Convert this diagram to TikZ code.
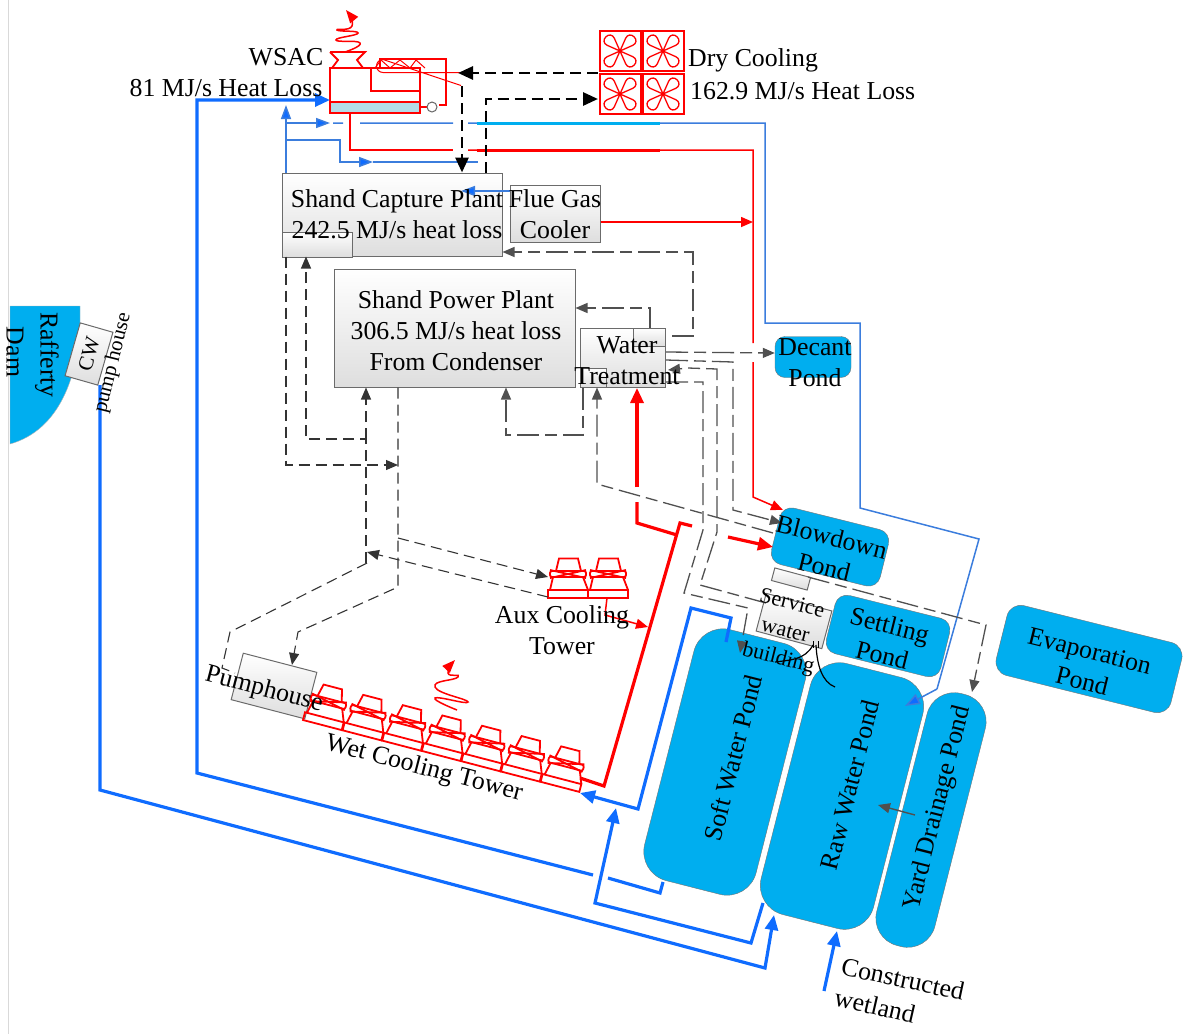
\documentclass[tikz,border=0pt]{standalone}
\usepackage{fontspec}
\setmainfont{Liberation Serif}
\usetikzlibrary{arrows.meta,calc}
\definecolor{pondblue}{HTML}{00AEEF}
\definecolor{pipeblue}{HTML}{0F6CFF}
\definecolor{thinblue}{HTML}{3B7DDD}
\definecolor{lakeblue}{HTML}{B4DCE8}
\definecolor{dashgrey}{HTML}{505050}
\colorlet{coolred}{red}
\tikzset{
  fan/.pic={
    \draw[coolred,line width=2pt] (-20.5,-20) rectangle (20.5,20);
    \foreach \a in {45,135,225,315}
      \draw[coolred,line width=1.3pt,rotate=\a] (0,0) -- (13,-5) .. controls (17,-6.5) and (20,-4) .. (20,0) .. controls (20,4) and (17,6.5) .. (13,5) -- cycle;
  },
  tower/.pic={
    \draw[coolred,line width=1.8pt] (0,-8) rectangle (40,0);
    \draw[coolred,line width=1.8pt] (2,-8) -- (5,-21) (35,-21) -- (40,-8);
    \draw[coolred,line width=1.8pt,rounded corners=2pt] (2,-27) rectangle (38,-21);
    \draw[coolred,line width=1.8pt] (2,-28) -- (38,-20) (2,-20) -- (38,-28);
    \draw[coolred,line width=1.8pt] (8,-27) -- (11,-39.5) -- (30,-39.5) -- (33,-27);
  }
}
\begin{document}
\begin{tikzpicture}[x=1pt,y=-1pt,
  font=\fontsize{25.8}{31}\selectfont,
  lbl/.style={inner sep=0pt,align=center},
  smalllbl/.style={inner sep=0pt,align=center,font=\fontsize{21}{27}\selectfont},
  pond/.style={draw=black!55,fill=pondblue,rounded corners=#1},
  pond/.default=12pt,
  plant/.style={draw=black!58,line width=1pt,top color=white,bottom color=black!13},
  mainpipe/.style={draw=pipeblue,line width=3.2pt},
  bluepipe/.style={draw=thinblue,line width=1.5pt},
  redpipe/.style={draw=red,line width=1.5pt},
  fatred/.style={draw=red,line width=3.2pt},
  darkdash/.style={draw=black,line width=2.8pt,dash pattern=on 11pt off 6pt},
  thindash/.style={draw=black!80,line width=1.1pt,dash pattern=on 11pt off 6pt},
  greydash/.style={draw=dashgrey,line width=1.3pt,dash pattern=on 22pt off 6pt on 12pt off 6pt},
  bigtip/.style={-{Triangle[length=15pt,width=13pt]}},
  midtip/.style={-{Triangle[length=12pt,width=10pt]}},
  bluetip/.style={-{Triangle[length=14pt,width=10pt,fill=pipeblue]}},
  smalltip/.style={-{Triangle[length=13pt,width=10pt]}}]
\useasboundingbox (0,0) rectangle (1183,1034);
\draw[black!15] (8,0) -- (8,1034);
% Dam and pump house
\path[draw=black!30,fill=pondblue] (10,306) -- (80,306) -- (80,325) .. controls (78,375) and (60,430) .. (10,444) -- cycle;
\node[plant,minimum width=55pt,minimum height=34pt,inner sep=0pt,rotate=74] (cw) at (89,354) {};
% Ponds
\node[pond,minimum width=112pt,minimum height=58pt,rotate=-14] (blowdown) at (830,547) {};
\node[pond=10pt,minimum width=76pt,minimum height=41pt] (decant) at (813,357) {};
\node[pond,minimum width=118pt,minimum height=60pt,rotate=-14] (settling) at (888,636) {};
\node[pond=14pt,minimum width=180pt,minimum height=72pt,rotate=-14] (evaporation) at (1089,659) {};
\node[pond=30pt,minimum width=259pt,minimum height=115pt,rotate=75.7] (softpond) at (725,762) {};
\node[pond=30pt,minimum width=259pt,minimum height=116pt,rotate=75.7] (rawpond) at (842,796) {};
\node[pond=28pt,minimum width=260pt,minimum height=60pt,rotate=75.7] (yardpond) at (931,820) {};
% Plant boxes
\node[plant,minimum width=220pt,minimum height=83pt] (capture) at (392,214.5) {};
\node[plant,minimum width=70pt,minimum height=25pt] (capturesub) at (317,244.5) {};
\node[plant,minimum width=90pt,minimum height=57pt] (fluegas) at (555,213.5) {};
\node[plant,minimum width=241pt,minimum height=118pt] (power) at (454.5,328) {};
\node[plant,minimum width=85pt,minimum height=59pt] (water) at (622.5,357.5) {};
\node[plant,minimum width=32pt,minimum height=18pt] (watertop) at (649,337) {};
\node[plant,minimum width=26pt,minimum height=19pt] (waterlow) at (593,377.5) {};
\node[plant,minimum width=37pt,minimum height=13pt,rotate=-15] (servicesub) at (791,579) {};
\node[plant,minimum width=68pt,minimum height=39pt,rotate=-15] (service) at (794,621) {};
\node[plant,minimum width=76pt,minimum height=48pt,rotate=-14.6] (pumphouse) at (274,686) {};
% WSAC
\coordinate (wsacout) at (350,113);
\draw[red,line width=1.8pt,fill=lakeblue] (330,102) rectangle (420,113);
\node[draw=red,line width=1.8pt,inner sep=0pt,minimum width=90pt,minimum height=45pt] (wsac) at (375,90.5) {};
\draw[red,line width=1.8pt] (371,91) rectangle (420,68);
\draw[red,line width=1.8pt] (380,68) -- (380,59) -- (446,59) -- (446,105) -- (439,105);
\draw[red,line width=1pt] (375,68) -- (381,60) -- (390,68) -- (400,60) -- (410,68) -- (416,60) -- (425,68);
\draw[red,line width=1pt] (460,72.5) -- (383,72.5) arc (90:270:6.5) -- (461,85.5);
\draw[red,line width=1.8pt] (330,52) -- (365,52) -- (357,60) -- (363,68) (332,68) -- (338,60) -- (330,52);
\draw[red,line width=1.2pt] (420,107) -- (427,107);
\draw[black!60,line width=1pt] (432,107) circle (5);
\draw[red,line width=1.5pt,smalltip] plot[smooth,tension=1] coordinates {(345,52) (360,43) (336,40) (358,33) (337,30) (352,26) (346,10)};
% Dry cooling
\foreach \cx/\cy in {620/51,663/51,620/94,663/94}
  \pic at (\cx,\cy) {fan};
\coordinate (dryin) at (598,99);
\coordinate (dryout) at (598,73);
% Cooling towers
\foreach \i in {0,...,6}
  \pic[rotate=-14.6] (wet\i) at ({303+\i*39.6},{720+\i*10.3}) {tower};
\pic (aux1) at (548,598) {tower};
\pic (aux2) at (588,598) {tower};
\draw[red,line width=1.5pt,smalltip] plot[smooth,tension=1] coordinates {(457,710) (435,698) (468,702) (435,687) (458,677) (448,673) (455,660)};
% Named ends
\coordinate (towerin) at (580,793);
\coordinate (towerout) at (580,778);
\coordinate (auxbase) at (548,597);
\coordinate (wsacin) at (330,100);
\coordinate (rafferty) at (100,385);
\coordinate (softout) at (663,882);
\coordinate (softin) at (726,642);
\coordinate (rawout) at (763,903);
\coordinate (rawin) at (774,915);
\coordinate (wetin) at (837,931);
\coordinate (wetfree) at (824,991);
\coordinate (rawtop) at (905,706);
\coordinate (yardin) at (972,692);
\coordinate (blowred) at (783,510);
\coordinate (blowfat) at (773,547);
\coordinate (blowgrey) at (782,523);
\coordinate (blowdash) at (773,533);
\coordinate (softdash) at (740,653);
\coordinate (redjoin) at (753,222);
\coordinate (auxjoin) at (648,627);
\coordinate (servicein) at (766,603);
\coordinate (subout) at (808,577);
% Thick blue pipes
\draw[mainpipe,bigtip] (rafferty) -- (100,790) -- (765,968) -- (rawin);
\draw[mainpipe] (softout) -- (660,893) -- (608,878);
\draw[mainpipe,bigtip] (593,875) -- (197,773) -- (197,100) -- (wsacin);
\draw[mainpipe,bigtip] (rawout) -- (751,943) -- (595,903) -- (616,808);
\draw[mainpipe,bigtip] (wetfree) -- (wetin);
\draw[mainpipe,bigtip] (softin) -- (731,618) -- (691,608) -- (638,809) -- (towerin);
% Thin blue pipes
\draw[bluepipe,bluetip] (286,0 |- capture.north) -- (286,105);
\draw[bluepipe,bluetip] (286,123) -- (330,123);
\draw[bluepipe] (333,123) -- (343,123) (360,123) -- (453,123) (468,123) -- (765,123) -- (765,323) -- (860,323) -- (860,508) -- (979,539) -- (937,689);
\draw[bluepipe,-{Triangle[length=15pt,width=11pt,fill=pipeblue]}] (937,689) -- (rawtop);
\draw[bluepipe,bluetip] (286,140) -- (340,140) -- (340,162) -- (373,162);
\draw[bluepipe] (373,162) -- (478,162);
\draw[draw=pondblue,line width=3pt] (477,123) -- (660,123);
\draw[bluepipe,bluetip] (fluegas.west |- 0,191) -- (461,191);
% Red pipes
\draw[redpipe] (wsacout) -- (350,150) -- (453,150);
\draw[redpipe,midtip] (468,150) -- (753,150) -- (753,343) (753,362) -- (753,497) -- (blowred);
\draw[draw=red,line width=3pt] (477,150) -- (660,150);
\draw[redpipe,midtip] (fluegas.east |- 0,222) -- (redjoin);
\draw[fatred] (677,535) -- (637,523) -- (637,502);
\draw[fatred,bigtip] (637,487) -- (637,388);
\draw[fatred] (towerout) -- (604,786) -- (680,523) -- (692,526);
\draw[fatred,bigtip] (728,537) -- (blowfat);
\draw[redpipe,midtip] (607,598) -- (605,615) -- (auxjoin);
% Black dashed
\draw[darkdash,bigtip] (dryout) -- (458,73);
\draw[darkdash,bigtip] (462,86) -- (462,0 |- capture.north);
\draw[darkdash,bigtip] (486,0 |- capture.north) -- (486,99) -- (dryin);
% Thin dashed
\draw[thindash,midtip] (286,0 |- capture.south) -- (286,465) -- (398,465);
\draw[thindash,midtip] (366,563) -- (366,439) -- (306,439) -- (306,0 |- capture.south);
\draw[thindash,midtip] (366,439) -- (366,0 |- power.south);
\draw[thindash,midtip] (398,0 |- power.south) -- (398,587) -- (298,632) -- (292,665);
\draw[thindash] (367,563) -- (230,632) -- (222,668) -- (235,673);
\draw[thindash,midtip] (398,538) -- (548,577);
\draw[thindash,midtip] (auxbase) -- (367,552);
% Grey dashed
\draw[greydash,midtip] (650,0 |- watertop.north) -- (650,308) -- (power.east |- 0,308);
\draw[greydash,midtip] (672,336) -- (693,336) -- (693,252) -- (capture.east |- 0,252);
\draw[greydash,midtip] (583,0 |- water.south) -- (583,435) -- (506,435) -- (506,0 |- power.south);
\draw[greydash,midtip] (blowdash) -- (597,484) -- (597,0 |- water.south);
\draw[greydash,midtip] (666,352) -- (decant.west |- 0,353);
\draw[greydash,midtip] (666,360) -- (733,362) -- (733,510) -- (blowgrey);
\draw[greydash,midtip] (servicein) -- (700,585) -- (717,532) -- (717,369) -- (688,368) -- (668,370);
\draw[greydash,midtip] (subout) -- (986,625) -- (yardin);
\draw[greydash,midtip] (666,382) -- (703,382) -- (703,530) -- (684,593) -- (748,608) -- (softdash);
\draw[draw=dashgrey,line width=1.4pt,midtip] (915,815) -- (878,805);
% Service water outlets
\draw[black,line width=1.2pt] (813,645) .. controls (805,660) and (790,660) .. (775,662);
\draw[black,line width=1.2pt] (816,645) .. controls (817,665) and (822,682) .. (835,687);
\draw[black,line width=0.8pt] (813,641) -- (813,648) (818,641) -- (818,648);
% Labels
\node[lbl,rotate=-90] (rafflbl) at (47,355) {Rafferty};
\node[lbl,rotate=-90] (damlbl) at (15,352) {Dam};
\node[smalllbl,rotate=74] (cwlbl) at (cw) {CW};
\node[smalllbl,rotate=76] (pumplbl) at (113,363) {pump house};
\node[lbl] (wsaclbl) at (286,57) {WSAC};
\node[lbl] (wsacheat) at (226,88) {81 MJ/s Heat Loss};
\node[lbl,anchor=west] (drylbl) at (688,60) {Dry Cooling};
\node[lbl,anchor=west] (dryheat) at (690,91) {162.9 MJ/s Heat Loss};
\node[lbl] (capturelbl) at (397,214) {Shand Capture Plant\\242.5 MJ/s heat loss};
\node[lbl] (fluelbl) at (555,214) {Flue Gas\\Cooler};
\node[lbl] (powerlbl) at (456,331) {Shand Power Plant\\306.5 MJ/s heat loss\\From Condenser};
\node[lbl] (waterlbl) at (627,361) {Water\\Treatment};
\node[lbl] (decantlbl) at (815,363) {Decant\\Pond};
\node[lbl,rotate=-14] (blowlbl) at (828,552) {Blowdown\\Pond};
\node[lbl,rotate=-14] (settlelbl) at (886,640) {Settling\\Pond};
\node[lbl,rotate=-14] (evaplbl) at (1086,666) {Evaporation\\Pond};
\node[lbl,align=center,font=\fontsize{22}{28}\selectfont,rotate=-14] (servicelbl) at (785,632) {Service\\water\\building};
\node[lbl] (auxlbl) at (562,630) {Aux Cooling\\Tower};
\node[lbl,rotate=-14.6] (pumphouselbl) at (264,690) {Pumphouse};
\node[lbl,rotate=-14.6] (wetlbl) at (424,769) {Wet Cooling Tower};
\node[lbl,rotate=75.7] (softlbl) at (733,758) {Soft Water Pond};
\node[lbl,rotate=75.7] (rawlbl) at (850,785) {Raw Water Pond};
\node[lbl,rotate=75.7] (yardlbl) at (938,808) {Yard Drainage Pond};
\node[lbl,rotate=-12] (constrlbl) at (903,979) {Constructed};
\node[lbl,rotate=-13] (wetlandlbl) at (875,1006) {wetland};
\end{tikzpicture}
\end{document}
